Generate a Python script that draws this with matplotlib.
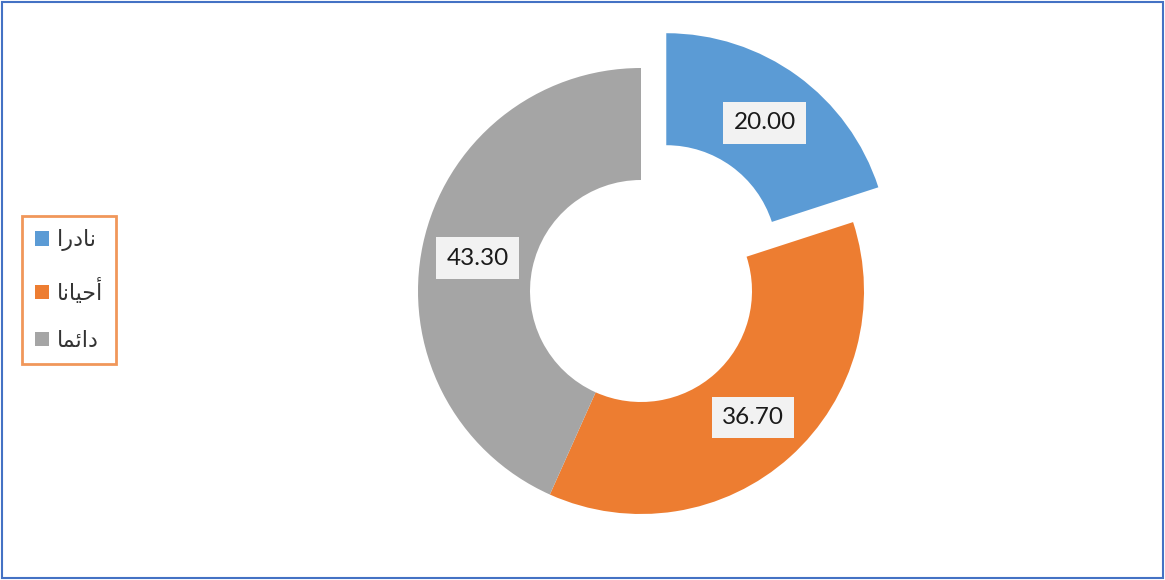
import matplotlib.pyplot as plt
from matplotlib.patches import Rectangle, Patch

# данные диаграммы
categories = ['نادرا', 'أحيانا', 'دائما']
values = [20.00, 36.70, 43.30]
colors = ['#5B9BD5', '#ED7D31', '#A5A5A5']

# формы арабских букв: изолированная, конечная, начальная, срединная
FORMS = {
    'ا': ('\uFE8D', '\uFE8E', None, None),
    'أ': ('\uFE83', '\uFE84', None, None),
    'د': ('\uFEA9', '\uFEAA', None, None),
    'ر': ('\uFEAD', '\uFEAE', None, None),
    'ن': ('\uFEE5', '\uFEE6', '\uFEE7', '\uFEE8'),
    'ح': ('\uFEA1', '\uFEA2', '\uFEA3', '\uFEA4'),
    'ي': ('\uFEF1', '\uFEF2', '\uFEF3', '\uFEF4'),
    'ئ': ('\uFE89', '\uFE8A', '\uFE8B', '\uFE8C'),
    'م': ('\uFEE1', '\uFEE2', '\uFEE3', '\uFEE4'),
}


def shape_arabic(word):
    """
    Соединяет буквы и переворачивает строку для вывода слева направо
    """
    out = []
    for i, ch in enumerate(word):
        f = FORMS[ch]
        joins_prev = i > 0 and FORMS[word[i - 1]][2] is not None
        joins_next = i < len(word) - 1 and f[2] is not None
        if joins_prev and joins_next:
            out.append(f[3])
        elif joins_prev:
            out.append(f[1])
        elif joins_next:
            out.append(f[2])
        else:
            out.append(f[0])
    return ''.join(reversed(out))


W, H = 1165, 580
fig = plt.figure(figsize=(W / 100, H / 100), dpi=100)
ax = fig.add_axes([0, 0, 1, 1])

wedges, texts, autotexts = ax.pie(
    values, colors=colors, startangle=90, counterclock=False,
    explode=[43, 0, 0], radius=223, center=(641, 289),
    wedgeprops=dict(width=112, linewidth=0),
    autopct=lambda p: f'{p:.2f}', pctdistance=0.75,
    textprops=dict(fontsize=17.5, family=['Lato', 'DejaVu Sans'], color='#1a1a1a'),
)
for t in autotexts:
    t.set_verticalalignment('center_baseline')
    t.set_bbox(dict(boxstyle='square,pad=0.42', facecolor='#F2F2F2', edgecolor='none'))

# pie сбрасывает пределы осей, поэтому задаём их после
ax.set_xlim(0, W)
ax.set_ylim(0, H)
ax.set_aspect('equal')
ax.axis('off')

handles = [Patch(facecolor=c, edgecolor='none') for c in colors]
leg = fig.legend(handles, [shape_arabic(c) for c in categories],
                 loc='center left', bbox_to_anchor=(22 / W, 1 - 290 / H),
                 fancybox=False, frameon=True,
                 handlelength=0.6, handleheight=0.6, handletextpad=0.35,
                 labelspacing=1.2, borderpad=0.6, borderaxespad=0,
                 prop=dict(family='DejaVu Sans', size=16))
leg.get_frame().set_edgecolor('#ED7D31')
leg.get_frame().set_linewidth(2)
for t in leg.get_texts():
    t.set_color('#333333')

fig.patches.append(Rectangle((0.002, 0.003), 0.996, 0.994, transform=fig.transFigure,
                             fill=False, edgecolor='#4472C4', linewidth=1.5))

fig.savefig('out.png', dpi=100)
